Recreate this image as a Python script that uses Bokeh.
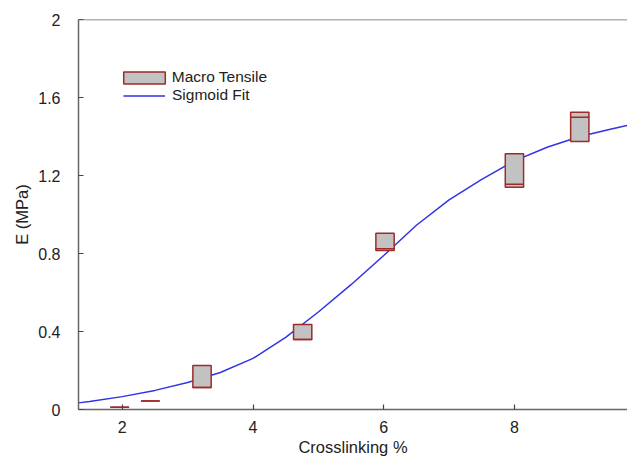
from bokeh.plotting import figure
from bokeh.models import (Range1d, FixedTicker, Legend, LegendItem, Span,
                          ColumnDataSource)
from bokeh.embed import file_html
from bokeh.resources import INLINE

# ---- data ----
crosslink = [1.96, 2.43, 3.22, 4.76, 6.02, 8.0, 9.0]
e_low = [0.012, 0.043, 0.113, 0.359, 0.815, 1.14, 1.374]
e_high = [0.012, 0.043, 0.226, 0.436, 0.904, 1.311, 1.525]
e_median = [0.012, 0.043, 0.113, 0.359, 0.825, 1.155, 1.499]

fit_x = [1.33, 1.5, 2.0, 2.5, 3.0, 3.5, 4.0, 4.5, 5.0, 5.5, 6.0, 6.5,
         7.0, 7.5, 8.0, 8.5, 9.0, 9.5, 9.75]
fit_y = [0.034, 0.041, 0.066, 0.098, 0.138, 0.19, 0.262, 0.37, 0.50, 0.64,
         0.79, 0.945, 1.075, 1.18, 1.275, 1.345, 1.40, 1.44, 1.458]

x_ticks = [2, 4, 6, 8]
y_ticks = [0, 0.4, 0.8, 1.2, 1.6, 2]
y_tick_labels = ["0", "0.4", "0.8", "1.2", "1.6", "2"]

FONT = "Liberation Sans"
AXIS_COL = "#666666"
TEXT_COL = "#222222"
RED = "#9e2a2a"
BLUE = "#3232e6"

p = figure(width=627, height=470, output_backend="svg", toolbar_location=None,
           x_range=Range1d(1.33, 9.73), y_range=Range1d(0, 2),
           min_border_left=78, min_border_right=0, min_border_top=19,
           min_border_bottom=61)
p.outline_line_color = None
p.xgrid.visible = False
p.ygrid.visible = False
p.background_fill_color = "white"
p.border_fill_color = "white"

src = ColumnDataSource(dict(x=crosslink, lo=e_low, hi=e_high, med=e_median))
r_fit = p.line(fit_x, fit_y, line_color=BLUE, line_width=1.5)
r_box = p.vbar(x="x", width=0.28, bottom="lo", top="hi", source=src,
               fill_color="#c2c2c2", line_color=RED, line_width=1.5)
p.scatter(x="x", y="med", source=src, marker="dash", size=19,
          line_color=RED, line_width=1.5)

# top frame line
p.add_layout(Span(location=2, dimension="width", line_color=AXIS_COL,
                  line_width=1.5))

for ax in (p.xaxis[0], p.yaxis[0]):
    ax.axis_line_color = AXIS_COL
    ax.axis_line_width = 1.5
    ax.major_tick_line_color = "#444444"
    ax.major_tick_line_width = 1.2
    ax.major_tick_in = 5
    ax.major_tick_out = 0
    ax.minor_tick_line_color = None
    ax.major_label_text_font = FONT
    ax.major_label_text_font_size = "16px"
    ax.major_label_text_color = TEXT_COL
    ax.axis_label_text_font = FONT
    ax.axis_label_text_font_size = "16.5px"
    ax.axis_label_text_font_style = "normal"
    ax.axis_label_text_color = TEXT_COL

p.xaxis.ticker = FixedTicker(ticks=x_ticks)
p.xaxis.major_label_overrides = {t: str(t) for t in x_ticks}
p.xaxis.major_label_standoff = 11
p.xaxis.axis_label = "Crosslinking %"
p.xaxis.axis_label_standoff = 2

p.yaxis.ticker = FixedTicker(ticks=y_ticks)
p.yaxis.major_label_overrides = dict(zip(y_ticks, y_tick_labels))
p.yaxis.major_label_standoff = 18
p.yaxis.axis_label = "E (MPa)"
p.yaxis.axis_label_standoff = 4

common = dict(orientation="vertical", label_height=15, spacing=0, padding=0,
              margin=0, border_line_color=None, background_fill_alpha=0,
              label_text_font=FONT, label_text_font_size="15.5px",
              label_text_color=TEXT_COL, label_text_line_height=0.9)

# area glyphs are drawn at 80% of the glyph box in legends
legend_box = Legend(items=[LegendItem(label="Macro Tensile", renderers=[r_box])],
                    location=(39.75, 323), glyph_width=52, glyph_height=15,
                    label_standoff=2, **common)
legend_fit = Legend(items=[LegendItem(label="Sigmoid Fit", renderers=[r_fit])],
                    location=(45, 305), glyph_width=42, glyph_height=15,
                    label_standoff=7, **common)
p.add_layout(legend_box)
p.add_layout(legend_fit)

open("out.html", "w").write(file_html(p, INLINE))
